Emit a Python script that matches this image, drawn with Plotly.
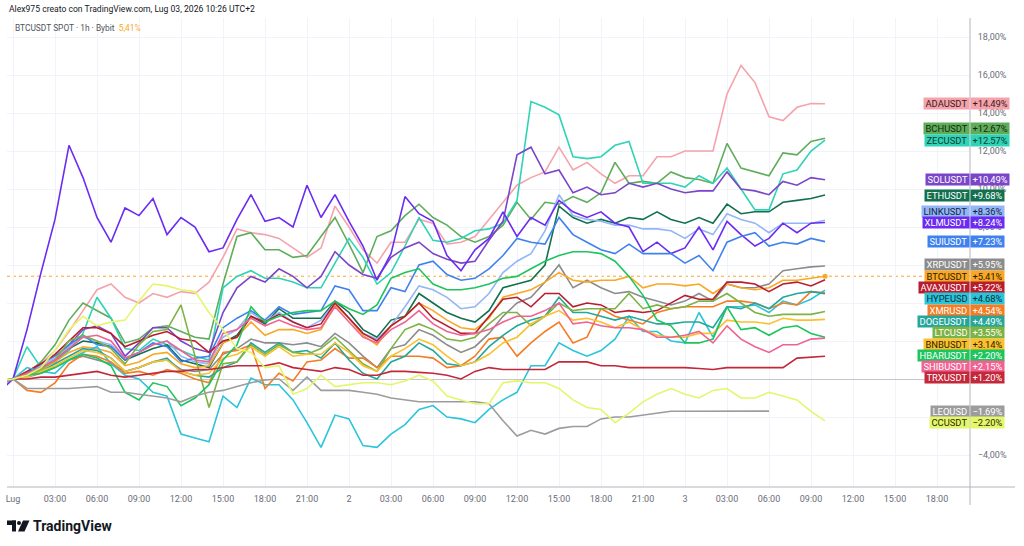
import plotly.graph_objects as go

# ---------------- data ----------------
hours = list(range(-1, 59))  # hourly bars, 0 = Lug 1 00:00
tick_hours = list(range(0, 67, 3))
tick_labels = ["Lug", "03:00", "06:00", "09:00", "12:00", "15:00", "18:00", "21:00",
               "2", "03:00", "06:00", "09:00", "12:00", "15:00", "18:00", "21:00",
               "3", "03:00", "06:00", "09:00", "12:00", "15:00", "18:00"]
y_ticks = [-4, -2, 0, 2, 4, 6, 8, 10, 12, 14, 16, 18]
y_labelled = [-4, 8, 10, 12, 14, 16, 18]   # the others sit under the price-scale tags

ada = [-0.3, 0, 0.4, 0.8, 1.5, 2.5, 3.6, 4.7, 5.0, 4.3, 4.0, 4.5, 4.3, 4.6, 4.5, 5.1, 6.4, 7.9, 7.7, 7.6,
       7.4, 6.9, 6.4, 6.9, 9.1, 8.0, 6.8, 6.1, 7.2, 7.2, 8.4, 8.2, 7.1, 7.2, 7.5, 8.4, 9.3, 10.2, 10.6, 10.9,
       12.2, 11.0, 11.4, 10.8, 10.3, 10.7, 10.7, 11.7, 11.7, 12.0, 12.0, 12.0, 15.0, 16.5, 15.6, 13.8, 13.6, 14.3, 14.5, 14.49]
bch = [-0.1, 0, 0.3, 0.9, 1.8, 3.1, 4.0, 3.6, 3.2, 1.9, 2.1, 2.7, 2.8, 2.5, 2.2, 2.1, 5.0, 7.5, 7.7, 6.8,
       6.8, 6.4, 6.5, 7.5, 8.5, 7.1, 5.6, 7.5, 7.8, 8.6, 9.2, 8.5, 8.1, 7.5, 7.2, 7.5, 8.1, 9.3, 8.4, 9.3,
       9.2, 9.6, 9.3, 9.8, 11.4, 10.3, 10.4, 10.3, 10.9, 10.6, 10.5, 10.3, 12.4, 11.1, 10.9, 10.7, 11.9, 11.8, 12.5, 12.67]
zec = [-0.2, 0, 1.7, 0.6, 0.9, 1.5, 2.4, 4.3, 3.2, 1.6, 1.5, 2.1, 1.8, 1.5, 1.2, 1.0, 4.8, 5.4, 5.7, 5.3,
       5.3, 5.1, 4.8, 4.8, 6.1, 7.4, 6.4, 5.0, 5.6, 7.0, 8.5, 7.3, 7.2, 7.4, 7.8, 7.9, 8.2, 9.4, 14.6, 14.3,
       13.9, 11.7, 11.6, 11.7, 12.3, 12.5, 10.3, 10.3, 10.3, 10.1, 10.7, 10.3, 11.1, 10.0, 8.9, 8.9, 10.8, 11.0, 12.0, 12.57]
sol = [-0.2, 0, 0.3, 0.6, 0.9, 1.8, 2.6, 2.8, 2.4, 1.2, 1.9, 2.7, 2.7, 2.0, 1.6, 1.4, 3.5, 4.8, 5.4, 5.1,
       5.8, 5.4, 4.8, 5.4, 6.7, 6.0, 5.5, 5.3, 6.4, 6.9, 7.2, 6.6, 6.3, 6.1, 6.2, 7.3, 8.3, 11.8, 12.2, 10.8,
       11.0, 9.8, 10.1, 9.7, 9.8, 10.3, 10.1, 10.3, 10.0, 9.8, 9.9, 9.9, 10.9, 10.0, 9.9, 9.7, 10.4, 10.2, 10.6, 10.49]
eth = [-0.3, 0, 0.3, 0.6, 1.0, 1.6, 2.0, 1.9, 1.7, 1.0, 1.3, 1.6, 1.8, 1.0, 0.8, 0.6, 1.9, 2.3, 3.3, 2.9,
       3.7, 3.2, 3.2, 3.2, 4.1, 3.5, 2.6, 2.2, 3.1, 3.3, 4.5, 4.0, 3.5, 3.2, 3.0, 3.6, 4.8, 5.0, 5.2, 6.0,
       9.1, 8.5, 8.2, 8.4, 8.2, 8.5, 8.4, 8.8, 8.4, 8.2, 8.5, 8.2, 9.2, 8.7, 8.8, 8.8, 9.3, 9.4, 9.5, 9.68]
link = [-0.2, 0, 0.3, 0.7, 1.1, 1.7, 2.2, 2.0, 1.8, 1.1, 1.4, 1.8, 2.0, 1.2, 0.9, 0.8, 2.2, 2.6, 3.5, 3.0,
        3.5, 3.0, 2.7, 3.1, 4.0, 3.2, 2.4, 2.1, 2.8, 3.8, 4.9, 4.7, 4.3, 3.7, 3.8, 4.5, 5.6, 6.2, 6.6, 7.8,
        9.7, 8.6, 8.4, 8.3, 8.1, 8.1, 7.9, 7.9, 7.8, 7.4, 7.9, 7.6, 8.7, 8.4, 8.2, 7.7, 8.2, 8.2, 8.2, 8.36]
xlm = [-0.7, 0, 2.6, 5.6, 8.4, 12.3, 10.6, 8.5, 7.2, 9.0, 8.6, 9.5, 7.6, 8.5, 8.0, 6.7, 6.9, 8.4, 9.7, 8.3,
       8.5, 8.0, 10.2, 8.5, 9.7, 8.3, 7.0, 5.2, 6.6, 9.6, 8.7, 8.3, 6.5, 5.7, 6.8, 7.4, 8.8, 7.5, 8.5, 8.1,
       9.4, 8.8, 8.5, 8.8, 8.2, 8.0, 6.7, 7.2, 6.6, 6.9, 8.0, 6.8, 8.3, 7.6, 7.0, 7.4, 8.2, 7.7, 8.2, 8.24]
sui = [-0.3, 0, 0.3, 0.8, 1.2, 1.8, 2.3, 1.8, 1.7, 1.0, 1.4, 1.9, 1.7, 0.9, 1.1, 1.2, 2.7, 3.2, 3.6, 3.1,
       3.8, 3.4, 3.5, 3.6, 4.9, 4.7, 3.6, 3.6, 4.8, 4.6, 6.0, 6.2, 5.5, 5.2, 5.3, 5.8, 6.5, 7.4, 7.2, 7.1,
       8.5, 7.6, 7.2, 6.8, 6.6, 7.1, 6.6, 6.6, 6.6, 6.1, 6.5, 5.7, 7.2, 7.5, 7.7, 7.0, 7.2, 7.1, 7.4, 7.23]
xrp = [-0.2, 0, 0.1, 0.3, 0.6, 1.0, 1.2, 1.0, 0.8, 0.4, 0.6, 0.9, 1.0, 0.5, 0.4, 0.5, 1.3, 1.6, 2.1, 1.9,
       1.9, 1.8, 1.9, 1.7, 2.4, 1.9, 1.2, 0.6, 1.6, 1.8, 2.6, 2.3, 1.8, 1.4, 1.7, 2.4, 3.3, 4.0, 4.3, 5.1,
       6.0, 4.8, 5.2, 4.8, 4.5, 4.6, 4.3, 4.1, 3.9, 4.1, 4.5, 4.1, 5.0, 4.8, 4.8, 5.0, 5.7, 5.8, 5.9, 5.95]
btc = [-0.2, 0, 0.2, 0.5, 0.9, 1.4, 1.7, 1.6, 1.4, 0.7, 0.9, 1.3, 1.4, 0.8, 0.6, 0.7, 1.9, 2.2, 3.0, 2.3,
       2.6, 2.6, 2.4, 2.6, 3.9, 3.2, 2.3, 1.8, 2.8, 3.3, 4.0, 3.6, 3.1, 2.7, 2.6, 3.2, 4.3, 4.5, 4.7, 5.1,
       5.6, 5.2, 5.1, 5.2, 5.2, 5.4, 4.8, 5.0, 5.0, 4.9, 5.0, 4.5, 5.0, 4.8, 4.7, 4.8, 5.2, 5.2, 5.3, 5.41]
avax = [-0.3, 0, 0.4, 0.8, 1.3, 2.0, 2.7, 2.7, 2.4, 1.7, 2.0, 2.3, 2.5, 2.1, 2.0, 1.4, 2.0, 2.2, 3.3, 3.0,
        3.4, 3.0, 2.7, 2.9, 4.0, 3.2, 2.4, 2.0, 2.8, 3.3, 4.0, 3.2, 2.8, 2.4, 2.4, 3.3, 4.2, 4.3, 3.8, 4.5,
        4.5, 3.8, 4.0, 3.9, 3.5, 3.6, 3.5, 3.6, 4.0, 4.4, 4.2, 4.2, 5.1, 5.1, 5.0, 4.6, 5.0, 5.1, 4.9, 5.22]
hype = [-0.1, 0, 0.6, 0.4, 0.3, 1.0, 1.4, 1.7, 0.8, 0.2, 0.0, -0.7, -0.9, -2.9, -3.1, -3.3, -0.9, -1.5, 0.05, -0.3,
        -0.3, -1.1, -2.3, -3.6, -1.9, -2.1, -3.5, -3.6, -2.9, -2.4, -1.6, -1.4, -2.0, -2.1, -2.3, -1.6, -1.1, -0.7, 0.7, 0.7,
        1.9, 1.5, 1.2, 1.5, 2.1, 3.3, 2.5, 2.5, 2.0, 1.9, 3.5, 2.2, 3.8, 3.8, 3.9, 3.5, 4.1, 3.9, 4.2, 4.68]
xmr = [-0.3, 0, -0.6, -0.7, -0.2, 0.8, 1.3, 1.2, 0.9, 0.3, 0.4, 0.2, 0.5, 0.3, 0.0, -0.2, 1.4, 1.5, 1.8, -0.5,
       0.3, -0.1, 0.9, 1.0, 1.6, 1.1, 1.1, 0.6, 1.2, 1.2, 1.2, 1.1, 0.6, 0.7, 1.2, 2.1, 2.2, 1.2, 1.9, 2.5,
       3.0, 1.9, 2.2, 3.7, 3.3, 3.1, 2.9, 3.5, 3.7, 3.8, 3.8, 3.8, 4.1, 4.1, 4.0, 3.7, 4.0, 3.9, 4.6, 4.54]
doge = [-0.2, 0, 0.2, 0.4, 0.8, 1.2, 1.6, 1.5, 1.1, 0.4, 0.6, 0.9, 1.1, 0.4, 0.2, 0.1, 0.6, 0.9, 1.9, 1.4,
        1.9, 1.4, 1.5, 1.1, 1.9, 1.0, 0.3, 0.0, 0.9, 1.2, 1.9, 1.5, 0.8, 0.7, 0.9, 1.7, 2.3, 2.8, 3.1, 3.3,
        4.3, 3.5, 3.5, 3.3, 3.1, 3.3, 3.1, 2.9, 2.9, 3.0, 3.0, 2.7, 3.8, 3.7, 4.0, 3.7, 4.3, 4.5, 4.6, 4.49]
ltc = [-0.2, 0, 0.2, 0.5, 1.0, 2.0, 2.3, 2.0, 1.6, 0.8, 1.8, 2.5, 2.6, 3.9, 1.2, -1.5, 0.8, 0.9, 1.8, 1.3,
       1.8, 1.4, 1.3, 1.6, 2.2, 1.5, 0.8, 0.4, 1.6, 2.6, 2.9, 2.6, 2.1, 2.0, 2.2, 2.9, 3.5, 3.5, 2.8, 3.3,
       4.0, 3.6, 3.7, 3.7, 3.7, 4.5, 3.7, 3.9, 3.7, 3.8, 4.1, 4.1, 4.5, 4.0, 3.5, 3.3, 3.4, 3.4, 3.4, 3.55]
bnb = [-0.2, 0, 0.1, 0.4, 0.7, 1.1, 1.5, 1.4, 1.1, 0.4, 0.6, 0.9, 1.0, 0.4, 0.2, 0.3, 1.1, 1.3, 1.7, 1.2,
       1.7, 1.2, 1.3, 1.3, 1.9, 1.4, 0.7, 0.4, 1.2, 1.6, 2.1, 1.8, 1.2, 0.7, 0.9, 1.3, 1.9, 2.2, 2.9, 3.3,
       3.6, 3.1, 3.2, 3.0, 2.7, 3.0, 2.6, 2.3, 2.2, 2.2, 2.4, 2.4, 3.1, 3.0, 3.0, 2.9, 3.2, 3.1, 3.1, 3.14]
hbar = [-0.3, 0, 0.2, 0.3, 0.6, 1.0, 1.3, 1.1, 0.7, -0.7, -1.1, -0.2, -0.4, -1.4, -1.0, -0.3, 1.0, 1.8, 3.8, 3.0,
        3.3, 3.5, 3.6, 3.6, 4.1, 3.7, 3.4, 3.9, 5.3, 5.6, 5.8, 5.0, 4.7, 4.7, 4.8, 5.0, 5.3, 5.4, 5.8, 6.2,
        6.5, 6.7, 6.7, 6.6, 6.2, 5.4, 4.4, 3.1, 2.8, 1.9, 1.9, 2.1, 3.8, 2.6, 2.7, 2.3, 2.7, 2.8, 2.4, 2.20]
shib = [-0.2, 0, 0.3, 0.6, 1.0, 1.6, 2.2, 2.3, 2.0, 1.1, 1.4, 1.8, 2.0, 1.5, 1.0, 0.9, 2.4, 2.6, 3.2, 2.8,
        3.1, 2.8, 2.6, 2.7, 3.8, 3.0, 2.2, 1.9, 2.6, 3.0, 3.6, 2.9, 2.5, 2.3, 2.4, 2.6, 3.0, 3.3, 3.3, 3.6,
        4.0, 2.9, 3.0, 2.8, 2.7, 2.7, 2.6, 2.2, 2.2, 2.3, 2.5, 1.9, 2.8, 2.1, 1.7, 1.4, 1.8, 1.8, 2.1, 2.15]
trx = [-0.1, 0, 0.0, 0.1, 0.1, 0.2, 0.3, 0.4, 0.2, 0.1, 0.2, 0.3, 0.4, 0.4, 0.5, 0.5, 0.6, 0.7, 0.7, 0.7,
       0.85, 0.6, 0.5, 0.4, 0.6, 0.5, 0.2, 0.2, 0.4, 0.4, 0.35, 0.3, 0.2, 0.0, 0.4, 0.6, 0.5, 0.5, 0.5, 0.5,
       0.9, 0.9, 0.9, 0.7, 0.7, 0.6, 0.6, 0.6, 0.6, 0.6, 0.55, 0.5, 0.6, 0.6, 0.6, 0.6, 0.6, 1.1, 1.15, 1.20]
leo = [-0.3, 0, -0.5, -0.5, -0.5, -0.5, -0.45, -0.4, -0.7, -0.7, -0.8, -0.9, -1.0, -1.2, -0.9, -0.7, -0.6, -0.4, -0.2, -0.05,
       0.0, -0.6, 0.1, -0.6, -0.6, -0.6, -0.7, -0.8, -1.0, -1.1, -1.2, -1.2, -1.2, -1.2, -1.2, -1.3, -2.2, -3.0, -2.7, -2.9,
       -2.6, -2.5, -2.5, -2.1, -2.0, -2.0, -1.9, -1.8, -1.7, -1.7, -1.7, -1.7, -1.7, -1.7, -1.7, -1.69, None, None, None, None]
cc = [-0.1, 0, 0.2, 0.6, 1.5, 2.6, 3.3, 2.8, 3.0, 3.1, 4.1, 5.0, 4.9, 4.7, 4.6, 3.5, 2.6, 1.6, 1.4, 0.6,
      0.7, -0.8, -0.5, 0.2, -0.4, -0.3, -0.2, -0.2, -0.3, -0.1, 0.2, -0.1, -0.9, -1.1, -1.3, -1.3, -0.2, -0.1, -0.2, -0.2,
      -0.5, -1.1, -1.5, -1.6, -2.3, -1.8, -1.2, -0.8, -0.5, -0.8, -1.0, -0.6, -0.5, -1.0, -1.0, -0.7, -0.9, -1.1, -1.7, -2.20]

# name, values, line/tag colour, tag text colour
series = [
    ("ADAUSDT", ada, "#F5A3AB", "#3a1a1d"),
    ("BCHUSDT", bch, "#5FAD5B", "#0f2a0e"),
    ("ZECUSDT", zec, "#2FD3B5", "#0b3a33"),
    ("SOLUSDT", sol, "#7B45C9", "#ffffff"),
    ("ETHUSDT", eth, "#12704F", "#ffffff"),
    ("LINKUSDT", link, "#92B6F7", "#13233f"),
    ("XLMUSDT", xlm, "#6B2BF2", "#ffffff"),
    ("SUIUSDT", sui, "#3F82EE", "#ffffff"),
    ("XRPUSDT", xrp, "#8C8C8C", "#ffffff"),
    ("BTCUSDT", btc, "#F9A825", "#2b1b00"),
    ("AVAXUSDT", avax, "#B81D2E", "#ffffff"),
    ("HYPEUSD", hype, "#2BC4DA", "#0b2f35"),
    ("XMRUSD", xmr, "#F57C22", "#ffffff"),
    ("DOGEUSDT", doge, "#26A69A", "#ffffff"),
    ("LTCUSD", ltc, "#7CB342", "#ffffff"),
    ("BNBUSDT", bnb, "#FBC02D", "#2b2000"),
    ("HBARUSDT", hbar, "#1EC45C", "#ffffff"),
    ("SHIBUSDT", shib, "#F06292", "#ffffff"),
    ("TRXUSDT", trx, "#C3283A", "#ffffff"),
    ("LEOUSD", leo, "#9C9C9C", "#ffffff"),
    ("CCUSDT", cc, "#E4F66C", "#2a2d00"),
]
for _n, _v, _c, _t in series:
    assert len(_v) == len(hours), _n

# ---------------- layout geometry ----------------
W, H = 1024, 546
PL, PR, PT, PB = 7, 970, 18, 487          # plot area in pixels
Y0_PX, PX_PER_PCT = 379, 19.0            # 0 % line and scale
X0_PX, PX_PER_H = 13, 14.0                # Lug 00:00 and scale
x_range = [(PL - X0_PX) / PX_PER_H, (PR - X0_PX) / PX_PER_H]
y_range = [(Y0_PX - PB) / PX_PER_PCT, (Y0_PX - PT) / PX_PER_PCT]


def px(x):
    return (x - PL) / (PR - PL)


def py(y):
    return (PB - y) / (PB - PT)


FONT = "Roboto, Liberation Sans, Arial, sans-serif"
GRID = "#F0F3FA"
TXT = "#6A6D78"


def fmt_pct(v, sign=True):
    s = f"{abs(v):.2f}".replace(".", ",") + "%"
    if v < 0:
        return "\u2212" + s
    return ("+" + s) if sign else s


fig = go.Figure()
for name, vals, col, _t in series:
    fig.add_trace(go.Scatter(x=hours, y=vals, mode="lines", name=name,
                             line=dict(color=col, width=1.6), hoverinfo="skip",
                             connectgaps=False, showlegend=False))

# main symbol: last value dot + dotted price line
btc_last = btc[-1]
fig.add_trace(go.Scatter(x=[hours[-1]], y=[btc_last], mode="markers",
                         marker=dict(color="#F9A825", size=5), hoverinfo="skip",
                         showlegend=False))
fig.add_shape(type="line", xref="paper", yref="y", x0=0, x1=1, y0=btc_last, y1=btc_last,
              line=dict(color="#F9A825", width=1, dash="dot"), layer="below")

# ---------------- price-scale tags ----------------
last_vals = []
for name, vals, col, tcol in series:
    lv = [v for v in vals if v is not None][-1]
    last_vals.append((name, lv, col, tcol))
gap = 11.3 / PX_PER_PCT
ordered = sorted(last_vals, key=lambda r: -r[1])
bi = [r[0] for r in ordered].index("BTCUSDT")
tag_pos = {"BTCUSDT": btc_last}
prev = btc_last
for r in reversed(ordered[:bi]):
    p = max(r[1], prev + gap)
    tag_pos[r[0]] = p
    prev = p
prev = btc_last
for r in ordered[bi + 1:]:
    p = min(r[1], prev - gap)
    tag_pos[r[0]] = p
    prev = p

for name, lv, col, tcol in last_vals:
    yy = tag_pos[name]
    common = dict(xref="paper", yref="y", y=yy, yanchor="middle", showarrow=False,
                  bgcolor=col, borderpad=1.5, height=7.5,
                  font=dict(family=FONT, size=9.4, color=tcol))
    fig.add_annotation(x=1, xanchor="right", text=name, **common)
    fig.add_annotation(x=1, xanchor="left", text=fmt_pct(lv), **common)

# ---------------- header & logo ----------------
fig.add_annotation(xref="paper", yref="paper", x=px(7), y=py(9), xanchor="left", yanchor="middle",
                   text="Alex975 creato con TradingView.com, Lug 03, 2026 10:26 UTC+2",
                   showarrow=False, font=dict(family=FONT, size=8.6, color="#131722"))
fig.add_annotation(xref="paper", yref="paper", x=px(13), y=py(28), xanchor="left", yanchor="middle",
                   text="BTCUSDT SPOT · 1h · Bybit  <span style='color:#F9A825'>"
                        + fmt_pct(btc_last, sign=False) + "</span>",
                   showarrow=False, font=dict(family=FONT, size=8.4, color="#50535E"))
fig.add_annotation(xref="paper", yref="paper", x=px(31), y=py(526), xanchor="left", yanchor="middle",
                   text="<b>TradingView</b>", showarrow=False,
                   font=dict(family=FONT, size=14, color="#131722"))
# logo mark
logo = "#131722"
fig.add_shape(type="rect", xref="paper", yref="paper", x0=px(7), x1=px(16), y0=py(525), y1=py(520.5),
              fillcolor=logo, line_width=0)
fig.add_shape(type="rect", xref="paper", yref="paper", x0=px(12), x1=px(16), y0=py(531.5), y1=py(520.5),
              fillcolor=logo, line_width=0)
fig.add_shape(type="circle", xref="paper", yref="paper", x0=px(17), x1=px(21), y0=py(525), y1=py(521),
              fillcolor=logo, line_width=0)
fig.add_shape(type="path", xref="paper", yref="paper",
              path=f"M {px(23)} {py(520.5)} L {px(29.5)} {py(520.5)} L {px(24.5)} {py(531.5)} "
                   f"L {px(18)} {py(531.5)} Z",
              fillcolor=logo, line_width=0)

# axis frame lines
fig.add_shape(type="line", xref="paper", yref="paper", x0=0, x1=px(1015), y0=0, y1=0,
              line=dict(color="#B2B5BE", width=1))
fig.add_shape(type="line", xref="paper", yref="paper", x0=1, x1=1, y0=py(505), y1=1,
              line=dict(color="#B2B5BE", width=1))

fig.update_layout(
    width=W, height=H,
    margin=dict(l=PL, r=W - PR, t=PT, b=H - PB, pad=0),
    paper_bgcolor="white", plot_bgcolor="white",
    showlegend=False,
    xaxis=dict(range=x_range, tickmode="array", tickvals=tick_hours, ticktext=tick_labels,
               showgrid=True, gridcolor=GRID, gridwidth=1, zeroline=False, showline=False,
               ticks="outside", ticklen=3, tickcolor="rgba(0,0,0,0)",
               tickfont=dict(family=FONT, size=9, color=TXT), fixedrange=True),
    yaxis=dict(range=y_range, side="right", tickmode="array", tickvals=y_ticks,
               ticktext=[fmt_pct(v, sign=False) if v in y_labelled else "" for v in y_ticks],
               showgrid=True, gridcolor=GRID, gridwidth=1,
               zeroline=True, zerolinecolor="#C4C6CC", zerolinewidth=1, showline=False,
               ticks="outside", ticklen=5, tickcolor="rgba(0,0,0,0)",
               tickfont=dict(family=FONT, size=9, color=TXT), fixedrange=True),
)

fig.write_html("out.html", config={"displayModeBar": False})
